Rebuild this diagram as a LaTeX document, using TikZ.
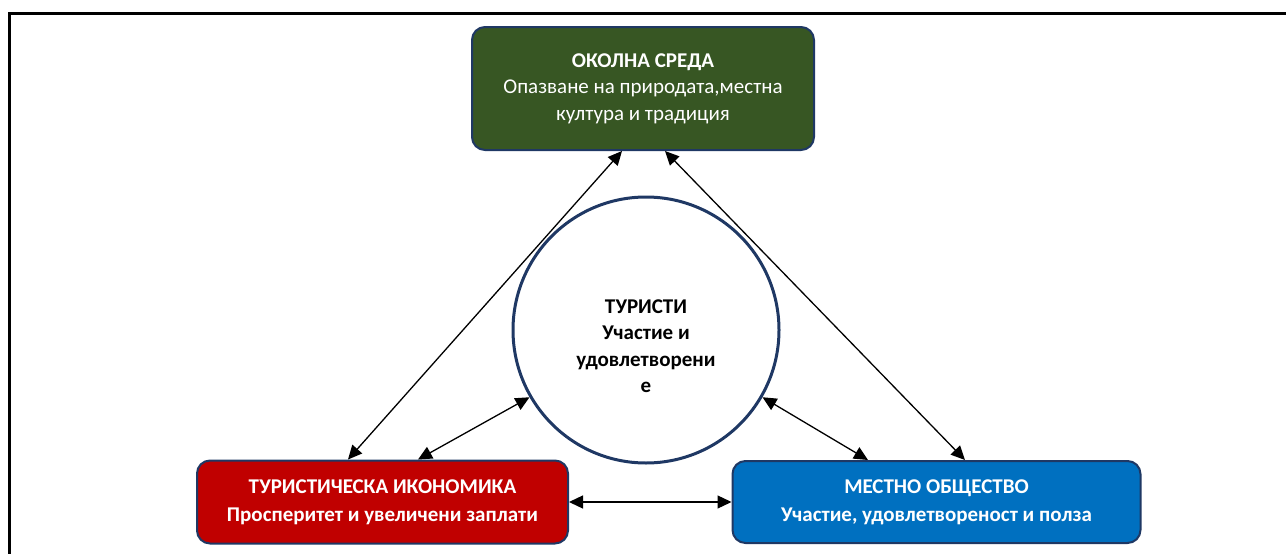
\documentclass[tikz,border=0pt]{standalone}
\usepackage{fontspec}
\setmainfont{Carlito}
\usetikzlibrary{arrows.meta}

\definecolor{envgreen}{HTML}{375623}
\definecolor{econred}{HTML}{C00000}
\definecolor{commblue}{HTML}{0070C0}
\definecolor{edgenavy}{HTML}{1F3864}

\begin{document}
\begin{tikzpicture}[x=1pt,y=-1pt,
    box/.style={draw=edgenavy, line width=2pt, rounded corners=13pt, text=white,
      align=center, inner sep=0pt, font=\fontsize{21}{26.5}\selectfont},
    boldbox/.style={box, font=\fontsize{21}{28}\selectfont\bfseries},
    link/.style={{Triangle[length=14pt,width=13pt]}-{Triangle[length=14pt,width=13pt]},
      line width=1.3pt}]
    \useasboundingbox (0,0) rectangle (1286,554);

    % Frame round the figure
    \draw[line width=3pt] (9,554) -- (9,13) -- (1286,13);

    % Environment box (top)
    \node[box, fill=envgreen, minimum width=342pt, minimum height=123pt] (env) at (643,88.5)
        {\textbf{ОКОЛНА СРЕДА}\\Опазване на природата,местна\\култура и традиция};

    % Economy box (bottom left)
    \node[boldbox, fill=econred, minimum width=371pt, minimum height=83pt] (econ) at (382.5,502)
        {ТУРИСТИЧЕСКА ИКОНОМИКА\\Просперитет и увеличени заплати};

    % Community box (bottom right)
    \node[boldbox, fill=commblue, minimum width=408pt, minimum height=82pt] (comm) at (936.5,502)
        {МЕСТНО ОБЩЕСТВО\\Участие, удовлетвореност и полза};

    % Tourists circle (middle), text sits a little low in it
    \node[circle, draw=edgenavy, line width=3pt, minimum size=266pt, inner sep=0pt] (tour) at (646,330) {};
    \node[align=center, font=\fontsize{21}{26.5}\selectfont\bfseries] (tourtext)
        at ([yshift=-16pt]tour.center) {ТУРИСТИ\\Участие и\\удовлетворени\\е};

    % Links
    \draw[link] ([xshift=-21pt]env.south) -- ([xshift=-34.5pt]econ.north);
    \draw[link] ([xshift=22pt]env.south) -- ([xshift=28.5pt]comm.north);
    \draw[link] (tour.210) -- ([xshift=35.5pt]econ.north);
    \draw[link] (tour.-30) -- ([xshift=-68.5pt]comm.north);
    \draw[link] (econ.east) -- (comm.west);
\end{tikzpicture}
\end{document}
